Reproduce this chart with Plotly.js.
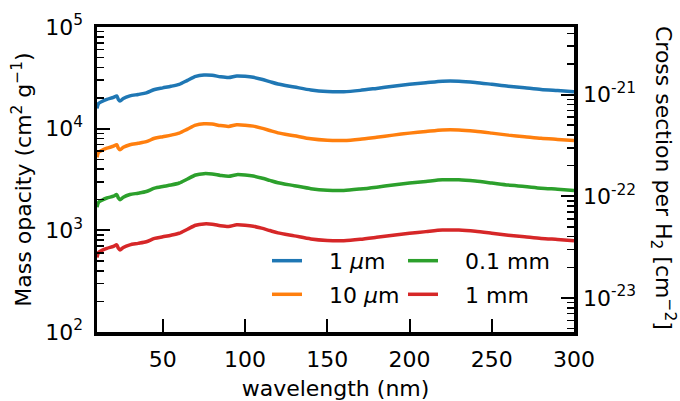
<!DOCTYPE html>
<html>
<head>
<meta charset="utf-8">
<script src="https://cdn.plot.ly/plotly-3.0.1.min.js"></script>
<style>html,body{margin:0;padding:0;background:#fff;}#chart{width:680px;height:401px;}</style>
</head>
<body>
<div id="chart"></div>
<script>
// wavelength (nm)
var wavelength = [10,11,13,16,20,22,23,24,26,30,35,40,45,50,55,60,65,70,75,80,85,90,95,100,105,110,115,120,130,140,150,160,170,180,190,200,210,220,230,240,250,260,270,280,290,300];
// mass opacity (cm^2 g^-1)
var kappa_1um = [15800,17700,18500,19400,20300,21000,19400,18700,19800,21000,21700,22500,24300,25200,26100,27300,29900,32700,33700,33500,32400,31800,33000,32700,32000,30600,29000,27500,25700,24000,23200,23100,23800,24900,26100,27300,28300,29300,29300,28500,27300,26100,25200,24300,23700,23100];
var kappa_10um = [5230,5860,6120,6420,6720,6950,6420,6190,6550,6950,7180,7450,8040,8340,8640,9040,9900,10820,11150,11090,10720,10530,10920,10820,10590,10130,9600,9100,8510,7940,7680,7650,7880,8240,8640,9040,9370,9700,9700,9430,9040,8640,8340,8040,7840,7650];
var kappa_01mm = [1690,1890,1980,2080,2170,2250,2080,2000,2120,2250,2320,2410,2600,2700,2790,2920,3200,3500,3610,3580,3470,3400,3530,3500,3420,3270,3100,2940,2750,2570,2480,2470,2550,2660,2790,2920,3030,3140,3140,3050,2920,2790,2700,2600,2540,2470];
var kappa_1mm = [542,607,635,665,696,720,665,641,679,720,744,772,833,864,895,936,1026,1122,1156,1149,1111,1091,1132,1122,1098,1050,995,943,882,823,796,792,816,854,895,936,971,1005,1005,978,936,895,864,833,813,792];
var seriesNames = ["1 <i>μ</i>m", "10 <i>μ</i>m", "0.1 mm", "1 mm"];
var seriesColors = ["#1f77b4", "#ff7f0e", "#2ca02c", "#d62728"];
var xTicks = [50,100,150,200,250,300];
var yTicks = [1e2,1e3,1e4,1e5];
var yTickText = ["10<sup>2</sup>","10<sup>3</sup>","10<sup>4</sup>","10<sup>5</sup>"];
var y2Ticks = [1e-23,1e-22,1e-21];
var y2TickText = ["10<sup>-23</sup>","10<sup>-22</sup>","10<sup>-21</sup>"];

function minorVals(e0, e1) {
  var v = [];
  for (var e = e0; e <= e1; e++) for (var m = 2; m <= 9; m++) v.push(m * Math.pow(10, e));
  return v;
}

var FONT = "DejaVu Sans, sans-serif";
var SP = "\u2002\u2002";
var allY = [kappa_1um, kappa_10um, kappa_01mm, kappa_1mm];
var legendOf = ["legend", "legend", "legend2", "legend2"];
var traces = allY.map(function (y, i) {
  return {
    x: wavelength, y: y, type: "scatter", mode: "lines",
    name: SP + seriesNames[i],
    line: {color: seriesColors[i], width: 3.5, shape: "spline", smoothing: 0.7},
    legend: legendOf[i],
    legendgroup: "g" + i,
    hoverinfo: "skip"
  };
});
traces.push({x: [wavelength[0]], y: [1e-22], yaxis: "y2", mode: "markers",
  marker: {opacity: 0}, showlegend: false, hoverinfo: "skip"});

var axisCommon = {
  showline: true, linecolor: "#000", linewidth: 3.5,
  ticks: "inside", ticklen: 13, tickwidth: 2, tickcolor: "#000",
  showgrid: false, zeroline: false,
  tickfont: {family: FONT, size: 22, color: "#000"}
};

var layout = {
  width: 680, height: 401,
  margin: {l: 97, r: 106, t: 27, b: 69},
  paper_bgcolor: "#fff", plot_bgcolor: "#fff",
  font: {family: FONT, size: 22, color: "#000"},
  showlegend: true,
  xaxis: Object.assign({}, axisCommon, {
    range: [10, 300], tickmode: "array", tickvals: xTicks,
    mirror: true, ticklabelstandoff: 5,
    title: {text: "wavelength (nm)", font: {family: FONT, size: 22}, standoff: 13}
  }),
  yaxis: Object.assign({}, axisCommon, {
    type: "log", range: [2, 5], tickmode: "array", tickvals: yTicks, ticktext: yTickText,
    mirror: true, ticklabelstandoff: 6,
    minor: {tickmode: "array", tickvals: minorVals(2, 4), ticks: "inside", ticklen: 7, tickwidth: 1.5, tickcolor: "#000", showgrid: false},
    title: {text: "Mass opacity (cm<sup>2</sup> g<sup>−1</sup>)", font: {family: FONT, size: 22}, standoff: 8}
  }),
  yaxis2: Object.assign({}, axisCommon, {
    type: "log", range: [-23.335, -20.335], overlaying: "y", side: "right", anchor: "x",
    tickmode: "array", tickvals: y2Ticks, ticktext: y2TickText, ticklabelstandoff: 1,
    minor: {tickmode: "array", tickvals: minorVals(-24, -21), ticks: "inside", ticklen: 7, tickwidth: 1.5, tickcolor: "#000", showgrid: false}
  }),
  legend: {x: 0.3564, xanchor: "left", y: 0.302, yanchor: "top", bgcolor: "rgba(0,0,0,0)",
    font: {family: FONT, size: 22}, traceorder: "grouped", tracegroupgap: 2},
  legend2: {x: 0.6415, xanchor: "left", y: 0.302, yanchor: "top", bgcolor: "rgba(0,0,0,0)",
    font: {family: FONT, size: 22}, traceorder: "grouped", tracegroupgap: 2},
  annotations: [{
    text: "Cross section per H<sub>2</sub> [cm<sup>−2</sup>]",
    xref: "paper", yref: "paper", x: 1.1866, y: 0.505, xanchor: "center", yanchor: "middle", textangle: 90,
    showarrow: false, font: {family: FONT, size: 22, color: "#000"}
  }]
};

Plotly.newPlot("chart", traces, layout, {staticPlot: true, displayModeBar: false});
</script>
</body>
</html>
